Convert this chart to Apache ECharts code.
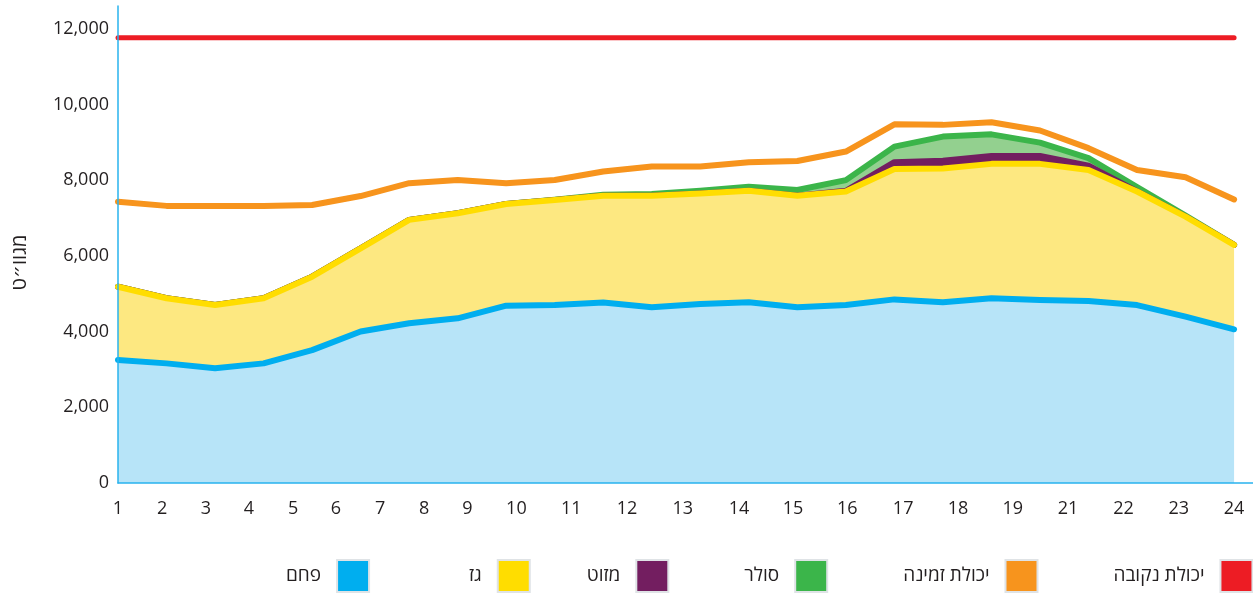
<!DOCTYPE html>
<html>
<head>
<meta charset="utf-8">
<script src="https://cdn.jsdelivr.net/npm/echarts@6/dist/echarts.min.js"></script>
<style>
  html, body { margin: 0; padding: 0; background: #fff; }
  #chart { width: 1253px; height: 597px; }
</style>
</head>
<body>
<div id="chart"></div>
<script>
// שעות היממה - 24 נקודות
var hours = [1, 2, 3, 4, 5, 6, 7, 8, 9, 10, 11, 12, 13, 14, 15, 16, 17, 18, 19, 20, 21, 22, 23, 24];

// תוויות ציר X כפי שמופיעות בתרשים (בלי 20) ומיקומן על הציר
var hourLabels = ['1', '2', '3', '4', '5', '6', '7', '8', '9', '10', '11', '12', '13', '14', '15', '16', '17', '18', '19', '21', '22', '23', '24'];
var hourLabelPos = [0, 0.91, 1.81, 2.70, 3.61, 4.49, 5.40, 6.31, 7.20, 8.21, 9.34, 10.49, 11.64, 12.80, 13.91, 15.03, 16.18, 17.31, 18.44, 19.58, 20.72, 21.86, 23];

var yTicks = [0, 2000, 4000, 6000, 8000, 10000, 12000];

// מגוו"ט
var coal   = [3250, 3160, 3030, 3160, 3510, 4000, 4220, 4350, 4685, 4700, 4765, 4640, 4730, 4775, 4640, 4700, 4850, 4775, 4880, 4835, 4810, 4700, 4395, 4060];
var gas    = [1935, 1720, 1670, 1720, 1940, 2200, 2730, 2775, 2685, 2775, 2825, 2950, 2920, 2945, 2950, 3000, 3445, 3535, 3550, 3595, 3460, 3000, 2640, 2230];
var mazut  = [0, 0, 0, 0, 0, 0, 0, 0, 0, 0, 0, 0, 0, 0, 0, 20, 180, 200, 210, 210, 110, 0, 0, 0];
var solar  = [0, 0, 0, 0, 0, 0, 0, 0, 0, 10, 25, 45, 70, 105, 150, 280, 410, 640, 570, 350, 200, 120, 30, 0];
var available = [7430, 7320, 7320, 7320, 7345, 7580, 7920, 8005, 7920, 8005, 8230, 8360, 8360, 8470, 8505, 8755, 9475, 9460, 9530, 9310, 8845, 8270, 8075, 7490];
var installed = [11760, 11760, 11760, 11760, 11760, 11760, 11760, 11760, 11760, 11760, 11760, 11760, 11760, 11760, 11760, 11760, 11760, 11760, 11760, 11760, 11760, 11760, 11760, 11760];

var legendNames = ['פחם', 'גז', 'מזוט', 'סולר', 'יכולת זמינה', 'יכולת נקובה'];

// [ערך, מיקום שעה] - הערך ראשון כדי שה-stack יהיה על ציר Y
function pairs(arr) {
    return arr.map(function (v, i) { return [v, hours[i] - 1]; });
}

var font = "'Open Sans', 'DejaVu Sans', sans-serif";
var textColor = '#231f20';

var myChart = echarts.init(document.getElementById('chart'));

function stackSeries(name, data, lineColor, areaColor, z) {
    return {
        name: name,
        type: 'line',
        stack: 'total',
        z: z,
        symbol: 'none',
        encode: { x: 1, y: 0 },
        data: pairs(data),
        itemStyle: { color: lineColor },
        lineStyle: { color: lineColor, width: 6, cap: 'round', join: 'round' },
        areaStyle: { color: areaColor, opacity: 1 }
    };
}

function lineSeries(name, data, color, width, z) {
    return {
        name: name,
        type: 'line',
        z: z,
        symbol: 'none',
        encode: { x: 1, y: 0 },
        data: pairs(data),
        itemStyle: { color: color },
        lineStyle: { color: color, width: width, cap: 'round', join: 'round' }
    };
}

// רווחים לפני שמות במקרא, כדי שהמרווחים יהיו כמו במקור
var legendLead = { 'גז': '\u2003\u2003 ', 'סולר': '\u2003', 'יכולת זמינה': '\u2003', 'יכולת נקובה': '\u2003' };

var option = {
    animation: false,
    grid: { left: 118, right: 0, top: 6, bottom: 114, outerBoundsMode: 'none', containLabel: false },
    legend: {
        data: legendNames,
        left: 286,
        top: 559,
        width: 1100,
        padding: 0,
        align: 'right',
        icon: 'rect',
        itemWidth: 32,
        itemHeight: 32,
        itemGap: 56,
        itemStyle: { borderColor: '#dfe3e6', borderWidth: 2 },
        textStyle: { fontFamily: font, fontSize: 19, color: textColor, padding: [0, 11, 0, 0] },
        formatter: function (name) {
            return (legendLead[name] || '') + name;
        },
        selectedMode: false
    },
    xAxis: {
        type: 'value',
        min: 0,
        max: 23.39,
        z: 10,
        axisLine: { show: true, lineStyle: { color: '#29b3ee', width: 1.5 } },
        axisTick: { show: false },
        splitLine: { show: false },
        axisLabel: {
            customValues: hourLabelPos,
            fontFamily: font,
            fontSize: 18,
            color: textColor,
            margin: 17,
            formatter: function (v) {
                var i = hourLabelPos.indexOf(v);
                return i >= 0 ? hourLabels[i] : '';
            }
        }
    },
    yAxis: {
        type: 'value',
        min: 0,
        max: 12600,
        z: 10,
        name: 'מגוו״ט',
        nameLocation: 'middle',
        nameRotate: 90,
        nameGap: 88,
        nameTextStyle: { fontFamily: font, fontSize: 20, color: textColor, padding: [0, 36, 0, 0] },
        axisLine: { show: true, lineStyle: { color: '#29b3ee', width: 1.5 } },
        axisTick: { show: false },
        splitLine: { show: false },
        axisLabel: {
            customValues: yTicks,
            fontFamily: font,
            fontSize: 18,
            color: textColor,
            margin: 9,
            padding: [0, 0, 10, 0],
            formatter: function (v) {
                return v.toLocaleString('en-US');
            }
        }
    },
    series: [
        stackSeries('פחם', coal, '#00aeef', '#b7e4f8', 6),
        stackSeries('גז', gas, '#ffdd00', '#fde881', 5),
        stackSeries('מזוט', mazut, '#731e60', '#731e60', 4),
        stackSeries('סולר', solar, '#3bb54a', '#93d08f', 3),
        lineSeries('יכולת זמינה', available, '#f7941d', 6, 7),
        lineSeries('יכולת נקובה', installed, '#ed1c24', 5, 8)
    ]
};

myChart.setOption(option, true);
</script>
</body>
</html>
